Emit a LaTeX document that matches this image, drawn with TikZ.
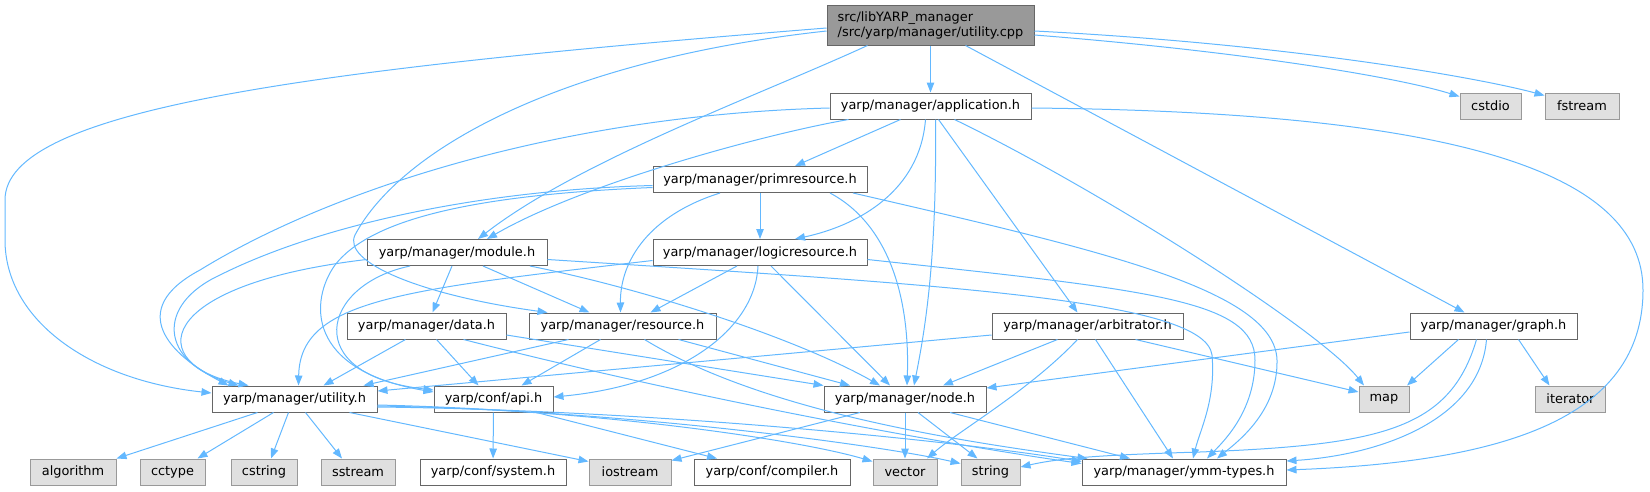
\documentclass[tikz,border=0pt]{standalone}
\usepackage{fontspec}
\setmainfont{DejaVu Sans}
\usetikzlibrary{arrows.meta}

\definecolor{incl}{HTML}{63B8FF}
\tikzset{
  every node/.style={font=\fontsize{12.9pt}{15pt}\selectfont},
  hdr/.style={draw=black!60, fill=white, line width=1pt, minimum height=26pt, inner sep=0pt},
  sys/.style={draw=black!40, fill=black!12, line width=1pt, minimum height=26pt, inner sep=0pt},
  edge/.style={draw=incl, line width=1pt, -{Triangle[length=10pt,width=7.5pt]}},
}

\begin{document}
\begin{tikzpicture}[x=1pt,y=-1pt]
  \useasboundingbox (0,0) rectangle (1650,491);
  % headers
  \node[hdr, fill=black!40, minimum width=207pt, minimum height=40pt, align=left] (root) at (930.5,25) {src/libYARP\_manager\\/src/yarp/manager/utility.cpp};
  \node[hdr, minimum width=201pt] (app) at (930.5,106) {yarp/manager/application.h};
  \node[hdr, minimum width=214pt] (prim) at (760,179.5) {yarp/manager/primresource.h};
  \node[hdr, minimum width=180pt] (module) at (457,252.5) {yarp/manager/module.h};
  \node[hdr, minimum width=214pt] (logic) at (760,252.5) {yarp/manager/logicresource.h};
  \node[hdr, minimum width=159pt] (data) at (426.5,326) {yarp/manager/data.h};
  \node[hdr, minimum width=187pt] (res) at (622.5,326) {yarp/manager/resource.h};
  \node[hdr, minimum width=191pt] (arb) at (1087.5,326) {yarp/manager/arbitrator.h};
  \node[hdr, minimum width=167pt] (graph) at (1493.5,326) {yarp/manager/graph.h};
  \node[hdr, minimum width=165pt] (util) at (294.5,399) {yarp/manager/utility.h};
  \node[hdr, minimum width=119pt] (api) at (493.5,399) {yarp/conf/api.h};
  \node[hdr, minimum width=162pt] (nodeh) at (905,399) {yarp/manager/node.h};
  \node[hdr, minimum width=146pt] (sysh) at (493,472) {yarp/conf/system.h};
  \node[hdr, minimum width=156pt] (comp) at (772,472) {yarp/conf/compiler.h};
  \node[hdr, minimum width=204pt] (ymm) at (1184,472) {yarp/manager/ymm-types.h};
  % system headers
  \foreach \n/\x/\y/\w in {cstdio/1490.5/106/61pt, fstream/1582/106/74pt, map/1384/399/50pt,
      iterator/1570.5/399/70pt, algorithm/73/472/86pt, cctype/172.5/472/65pt, cstring/264/472/66pt,
      sstream/358/472/74pt, iostream/630/472/82pt, vector/905/472/64pt, string/990.5/472/59pt}
    \node[sys, minimum width=\w] (\n) at (\x,\y) {\n};

  % utility.cpp
  \draw[edge] (root) -- (app);
  \draw[edge] ([yshift=-10pt]root.east) .. controls (1250,52) and (1400,78) .. ([yshift=-4pt]cstdio.north west);
  \draw[edge] ([yshift=-6pt]root.east) .. controls (1290,44) and (1480,78) .. ([yshift=-3pt]fstream.north west);
  \draw[edge] ([xshift=35pt]root.south) -- ([xshift=-29pt]graph.north);
  \draw[edge] ([xshift=-63pt]root.south) .. controls (760,95) and (580,160) .. ([xshift=21pt]module.north);
  \draw[edge] ([yshift=-6pt]root.west) .. controls (560,60) and (400,150) .. (355,235) .. controls (342,262) and (420,295) .. ([xshift=-75pt]res.north);
  \draw[edge] ([yshift=-3pt]root.west) .. controls (300,70) and (5,110) .. (5,200) -- (5,240) .. controls (5,320) and (90,380) .. ([yshift=6pt]util.west);

  % application.h
  \draw[edge] ([xshift=-30pt]app.south) -- ([xshift=35pt]prim.north);
  \draw[edge] ([xshift=-82pt]app.south) .. controls (760,135) and (580,185) .. ([xshift=30pt]module.north);
  \draw[edge] ([yshift=-2pt]app.west) .. controls (560,115) and (330,190) .. (200,270) .. controls (125,310) and (170,355) .. ([xshift=-66pt]util.north);
  \draw[edge] ([xshift=-5pt]app.south) .. controls (920,190) and (860,225) .. ([xshift=35pt]logic.north);
  \draw[edge] ([xshift=5pt]app.south) .. controls (937,260) and (925,330) .. ([xshift=9pt]nodeh.north);
  \draw[edge] ([xshift=8pt]app.south) -- ([xshift=-10pt]arb.north);
  \draw[edge] ([xshift=24pt]app.south) .. controls (1100,190) and (1320,330) .. ([xshift=-20pt]map.north);
  \draw[edge] ([yshift=-2pt]app.east) .. controls (1450,112) and (1643,170) .. (1643,290) .. controls (1643,420) and (1500,462) .. ([yshift=2pt]ymm.east);

  % primresource.h
  \draw[edge] (prim) -- (logic);
  \draw[edge] ([xshift=-40pt]prim.south) .. controls (650,215) and (620,260) .. ([xshift=-2pt]res.north);
  \draw[edge] ([yshift=-6pt]prim.west) .. controls (480,190) and (320,225) .. (220,275) .. controls (155,305) and (160,362) .. ([xshift=-56pt]util.north);
  \draw[edge] ([yshift=-8pt]prim.west) .. controls (470,195) and (370,220) .. (335,265) .. controls (310,300) and (305,370) .. ([yshift=7pt]api.west);
  \draw[edge] ([xshift=70pt]prim.south) .. controls (890,225) and (910,300) .. ([xshift=2pt]nodeh.north);
  \draw[edge] ([xshift=93pt]prim.south) .. controls (1100,250) and (1275,290) .. (1277,360) .. controls (1278,410) and (1240,440) .. ([xshift=33pt]ymm.north);

  % module.h
  \draw[edge] ([yshift=-7pt]module.west) .. controls (150,285) and (145,365) .. ([xshift=-46pt]util.north);
  \draw[edge] ([xshift=-47pt]module.south) .. controls (320,285) and (300,375) .. ([yshift=9pt]api.west);
  \draw[edge] ([xshift=-5pt]module.south) -- ([xshift=6pt]data.north);
  \draw[edge] ([xshift=26pt]module.south) -- ([xshift=-33pt]res.north);
  \draw[edge] ([xshift=73pt]module.south) .. controls (650,290) and (800,340) .. ([xshift=-25pt]nodeh.north);
  \draw[edge] ([yshift=-7pt]module.east) .. controls (950,285) and (1205,300) .. (1212,355) .. controls (1216,400) and (1200,430) .. ([xshift=9pt]ymm.north);

  % logicresource.h
  \draw[edge] ([yshift=-8pt]logic.west) .. controls (400,290) and (300,300) .. ([xshift=4pt]util.north);
  \draw[edge] ([xshift=-23pt]logic.south) -- ([xshift=28pt]res.north);
  \draw[edge] ([xshift=-2pt]logic.south) .. controls (755,330) and (680,385) .. ([yshift=2pt]api.east);
  \draw[edge] ([xshift=11pt]logic.south) -- ([xshift=-15pt]nodeh.north);
  \draw[edge] ([yshift=-7pt]logic.east) .. controls (1150,290) and (1255,300) .. (1255,360) .. controls (1255,410) and (1225,440) .. ([xshift=23pt]ymm.north);

  % data.h
  \draw[edge] ([xshift=-21pt]data.south) -- ([xshift=29pt]util.north);
  \draw[edge] ([xshift=10pt]data.south) -- ([xshift=-15pt]api.north);
  \draw[edge] ([yshift=-9pt]data.east) -- (nodeh.north west);
  \draw[edge] ([xshift=37pt]data.south) .. controls (700,400) and (950,445) .. ([yshift=-5pt]ymm.north west);

  % resource.h
  \draw[edge] ([xshift=-54pt]res.south) -- ([xshift=-14pt]util.north east);
  \draw[edge] ([xshift=-22pt]res.south) -- ([xshift=28pt]api.north);
  \draw[edge] ([xshift=56pt]res.south) -- ([xshift=-55pt]nodeh.north);
  \draw[edge] ([xshift=22pt]res.south) .. controls (760,410) and (950,440) .. ([xshift=6pt]ymm.north west);

  % arbitrator.h
  \draw[edge] ([yshift=-9pt]arb.west) -- ([yshift=8pt]util.east);
  \draw[edge] ([xshift=-30pt]arb.south) -- ([xshift=38pt]nodeh.north);
  \draw[edge] ([xshift=-10pt]arb.south) .. controls (1030,390) and (960,430) .. ([xshift=22pt]vector.north);
  \draw[edge] ([xshift=8pt]arb.south) -- ([xshift=-11pt]ymm.north);
  \draw[edge] ([xshift=48pt]arb.south) -- ([yshift=7pt]map.west);

  % graph.h
  \draw[edge] ([yshift=-6pt]graph.west) -- ([yshift=11pt]nodeh.east);
  \draw[edge] ([xshift=-35pt]graph.south) -- ([xshift=23pt]map.north);
  \draw[edge] ([xshift=25pt]graph.south) -- ([xshift=-21pt]iterator.north);
  \draw[edge] ([xshift=-17pt]graph.south) .. controls (1450,430) and (1380,445) .. (1200,452) .. controls (1100,455) and (1060,458) .. ([yshift=5pt]string.east);
  \draw[edge] ([xshift=-7pt]graph.south) .. controls (1480,420) and (1380,455) .. ([yshift=11pt]ymm.east);

  % node.h
  \draw[edge] (nodeh) -- (vector);
  \draw[edge] ([xshift=13pt]nodeh.south) -- ([xshift=-13pt]string.north);
  \draw[edge] ([xshift=45pt]nodeh.south) -- ([xshift=-54pt]ymm.north);
  \draw[edge] ([xshift=-45pt]nodeh.south) -- ([yshift=-2pt]iostream.north east);

  % utility.h
  \draw[edge] ([xshift=-37pt]util.south) -- (algorithm.north east);
  \draw[edge] ([xshift=-21pt]util.south) -- ([xshift=25pt]cctype.north);
  \draw[edge] ([xshift=-6pt]util.south) -- ([xshift=7pt]cstring.north);
  \draw[edge] ([xshift=11pt]util.south) -- ([xshift=-16pt]sstream.north);
  \draw[edge] ([xshift=55pt]util.south) -- ([yshift=-3pt]iostream.north west);
  \draw[edge] ([yshift=-6pt]util.east) .. controls (600,410) and (800,440) .. ([yshift=-3pt]vector.north west);
  \draw[edge] ([yshift=-7pt]util.east) .. controls (620,410) and (880,445) .. ([yshift=-5pt]string.north west);
  \draw[edge] ([yshift=-8pt]util.east) .. controls (650,410) and (950,440) .. ([yshift=-3pt]ymm.north west);

  % api.h
  \draw[edge] (api) -- (sysh);
  \draw[edge] ([xshift=43pt]api.south) -- ([xshift=-55pt]comp.north);
\end{tikzpicture}
\end{document}
